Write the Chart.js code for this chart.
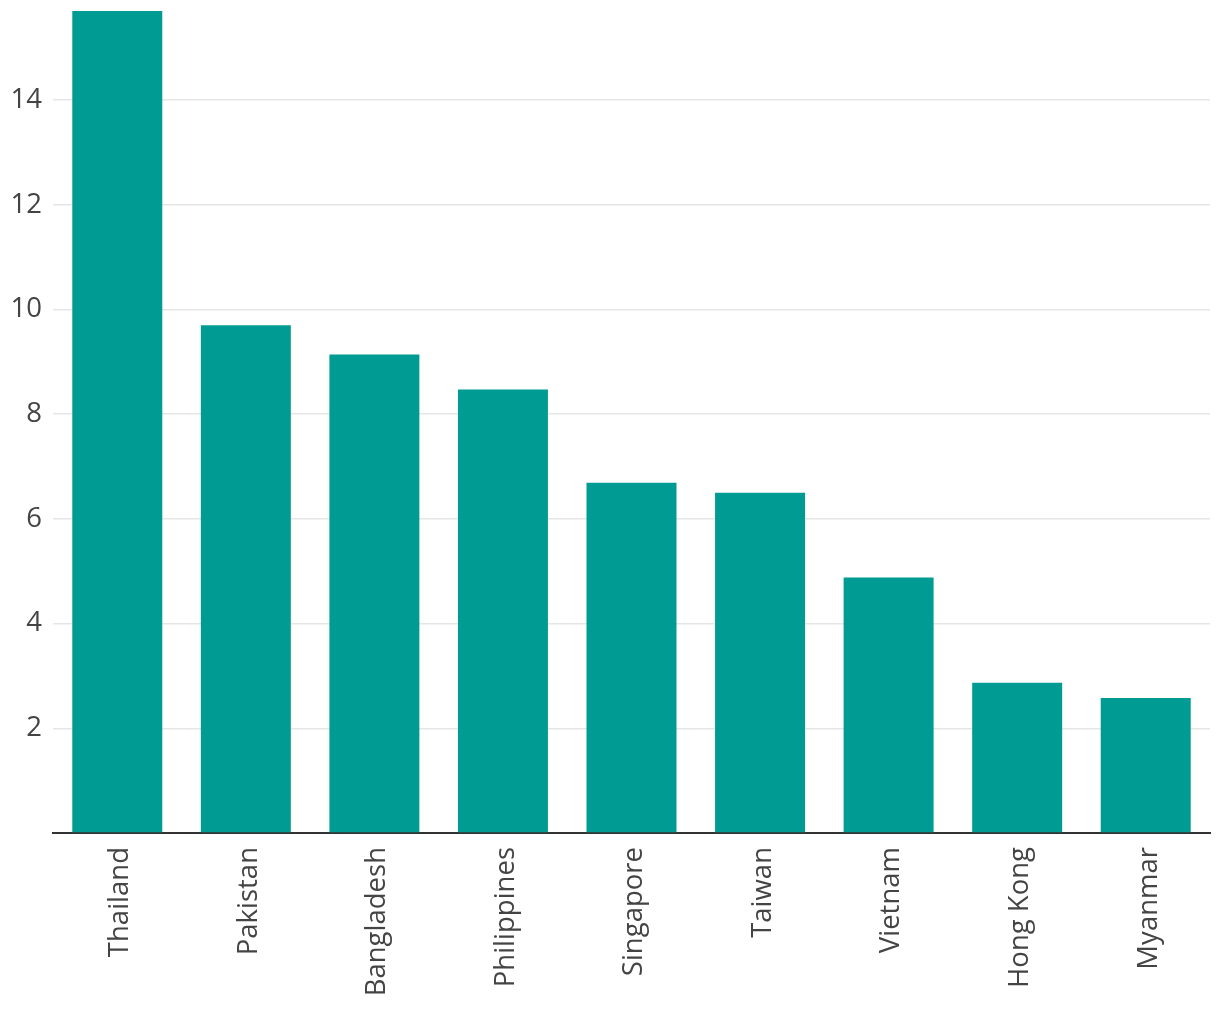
<!DOCTYPE html>
<html>
<head>
<meta charset="utf-8">
<script src="https://cdn.jsdelivr.net/npm/chart.js@4/dist/chart.umd.min.js"></script>
<style>
  html, body { margin: 0; padding: 0; background: #fff; }
  #wrap { width: 1220px; height: 1020px; }
</style>
</head>
<body>
<div id="wrap"><canvas id="chart" width="1220" height="1020"></canvas></div>
<script>
// ── Data ──────────────────────────────────────────────────────
const countries = ['Thailand', 'Pakistan', 'Bangladesh', 'Philippines', 'Singapore',
                   'Taiwan', 'Vietnam', 'Hong Kong', 'Myanmar'];
const values    = [15.7, 9.7, 9.14, 8.47, 6.69, 6.5, 4.88, 2.87, 2.58];
const yMax      = 15.72;

const textColor = '#444';
const fontSpec  = { family: '"Open Sans", sans-serif', size: 27.5 };

new Chart(document.getElementById('chart').getContext('2d'), {
  type: 'bar',
  data: {
    labels: countries,
    datasets: [{
      data: values,
      backgroundColor: '#009c93',
      borderWidth: 0,
      barPercentage: 0.70,
      categoryPercentage: 1,
    }],
  },
  options: {
    responsive: false,
    animation: false,
    devicePixelRatio: 1,
    layout: { padding: { top: 10, right: 10, left: 0, bottom: 0 } },
    plugins: { legend: { display: false }, tooltip: { enabled: false } },
    scales: {
      x: {
        grid: { display: false, drawTicks: false },
        border: { display: true, color: '#333', width: 2 },
        ticks: {
          color: textColor, font: fontSpec,
          minRotation: 90, maxRotation: 90, padding: 14, labelOffset: 3,
        },
        afterFit: s => { s.height = 187; s.paddingLeft = 0; s.paddingRight = 0; },
      },
      y: {
        min: 0, max: yMax,
        border: { display: false },
        grid: {
          color: ctx => ctx.tick && ctx.tick.value === 0 ? 'rgba(0,0,0,0)' : '#e6e6e6',
          lineWidth: 1.5, drawTicks: false,
        },
        ticks: {
          stepSize: 2, includeBounds: false,
          color: textColor, font: fontSpec, padding: 11,
          callback: v => v === 0 ? '' : v,
        },
        afterFit: s => { s.width = 53; s.paddingTop = 0; s.paddingBottom = 0; },
      },
    },
  },
});
</script>
</body>
</html>
